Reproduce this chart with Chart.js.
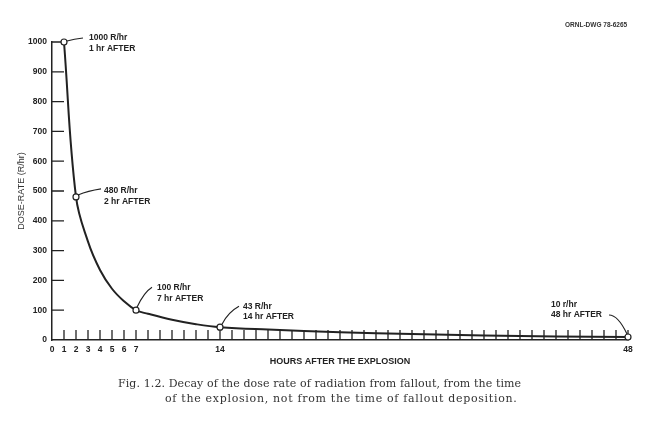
<!DOCTYPE html>
<html>
<head>
<meta charset="utf-8">
<title>Dose rate decay</title>
<script src="https://cdn.jsdelivr.net/npm/chart.js@4.4.0/dist/chart.umd.min.js"></script>
<style>
  body { margin: 0; background: #fff; }
  #wrap { position: relative; width: 664px; height: 427px; }
  #dwg { position: absolute; left: 565px; top: 21px; font: bold 6.5px "Liberation Sans", Arial, sans-serif; color: #333; }
  #caption { position: absolute; left: 118px; top: 376px; font: 11px "DejaVu Serif", serif; color: #333; line-height: 15px; white-space: nowrap; }
  #caption .l1 { letter-spacing: 0.1px; }
  #caption .l2 { margin-left: 47px; letter-spacing: 0.7px; }
</style>
</head>
<body>
<div id="wrap">
  <canvas id="myChart" width="664" height="427"></canvas>
  <div id="dwg">ORNL-DWG 78-6265</div>
  <div id="caption">
    <div class="l1">Fig. 1.2. Decay of the dose rate of radiation from fallout, from the time</div>
    <div class="l2">of the explosion, not from the time of fallout deposition.</div>
  </div>
</div>
<script>
// values
const hours    = [1, 2, 3, 4, 5, 6, 7, 8, 10, 12, 14, 18, 24, 30, 36, 42, 48];
const doseRate = [1000, 480, 330, 235, 172, 130, 100, 88, 68, 53, 43, 35, 26, 20, 15, 12, 10];

const markHours = [1, 2, 7, 14, 48];
const markRates = [1000, 480, 100, 43, 10];
const markText  = [
  ['1000 R/hr', '1 hr AFTER'],
  ['480 R/hr', '2 hr AFTER'],
  ['100 R/hr', '7 hr AFTER'],
  ['43 R/hr', '14 hr AFTER'],
  ['10 r/hr', '48 hr AFTER']
];

const xLabelHours = [0, 1, 2, 3, 4, 5, 6, 7, 14, 48];

const ink = '#222';
const lblFont = 'bold 8.5px "Liberation Sans", Arial, sans-serif';

// leader lines + text offsets, relative to each marked point
const leaders = [
  { path: [[3, -1], [10, -3], [19, -4]], dx: 25, dy: [-4, 7] },
  { path: [[2, -2], [12, -6], [25, -8]], dx: 28, dy: [-6, 5] },
  { path: [[1, -3], [8, -18], [16, -23]], dx: 21, dy: [-23, -12] },
  { path: [[2, -3], [8, -15], [19, -21]], dx: 23, dy: [-21, -11] },
  { path: [[-1, -3], [-10, -22], [-19, -22]], dx: -77, dy: [-32, -22] }
];

const innerTicks = {
  id: 'innerTicks',
  beforeDatasetsDraw(chart) {
    const { ctx, chartArea, scales } = chart;
    ctx.save();
    ctx.strokeStyle = ink;
    ctx.lineWidth = 1.3;
    ctx.beginPath();
    scales.x.ticks.forEach(t => {
      if (t.value <= 0) return;
      const px = scales.x.getPixelForValue(t.value);
      ctx.moveTo(px, chartArea.bottom);
      ctx.lineTo(px, chartArea.bottom - 10);
    });
    scales.y.ticks.forEach(t => {
      if (t.value <= 0) return;
      const py = scales.y.getPixelForValue(t.value);
      ctx.moveTo(chartArea.left, py);
      ctx.lineTo(chartArea.left + 12, py);
    });
    ctx.stroke();
    ctx.restore();
  },
  afterDraw(chart) {
    const { ctx, scales } = chart;
    ctx.save();
    ctx.strokeStyle = ink;
    ctx.fillStyle = ink;
    ctx.lineWidth = 1.2;
    ctx.font = lblFont;
    ctx.textBaseline = 'middle';
    markHours.forEach((h, i) => {
      const px = scales.x.getPixelForValue(h);
      const py = scales.y.getPixelForValue(markRates[i]);
      const L = leaders[i];
      ctx.beginPath();
      ctx.moveTo(px + L.path[0][0], py + L.path[0][1]);
      ctx.quadraticCurveTo(px + L.path[1][0], py + L.path[1][1], px + L.path[2][0], py + L.path[2][1]);
      ctx.stroke();
      ctx.fillText(markText[i][0], px + L.dx, py + L.dy[0]);
      ctx.fillText(markText[i][1], px + L.dx, py + L.dy[1]);
    });
    ctx.restore();
  }
};

const ctx = document.getElementById('myChart');

new Chart(ctx, {
  type: 'line',
  data: {
    datasets: [{
      label: 'marked',
      data: markHours.map((h, i) => ({ x: h, y: markRates[i] })),
      showLine: false,
      clip: false,
      pointRadius: 3,
      pointBackgroundColor: '#fff',
      pointBorderColor: ink,
      pointBorderWidth: 1.2
    }, {
      label: 'Dose rate',
      data: hours.map((h, i) => ({ x: h, y: doseRate[i] })),
      clip: false,
      borderColor: ink,
      borderWidth: 2,
      pointRadius: 0,
      tension: 0.4
    }]
  },
  options: {
    responsive: false,
    animation: false,
    layout: { padding: { top: 42, right: 36, bottom: 0, left: 0 } },
    plugins: { legend: { display: false }, tooltip: { enabled: false } },
    scales: {
      x: {
        type: 'linear',
        min: 0,
        max: 48,
        afterFit: s => { s.height = 87; },
        grid: { drawOnChartArea: false, drawTicks: false },
        border: { color: ink, width: 1.5 },
        ticks: {
          stepSize: 1,
          autoSkip: false,
          maxRotation: 0,
          padding: 5,
          color: ink,
          font: { family: '"Liberation Sans", Arial, sans-serif', size: 8.5, weight: 'bold' },
          callback: v => xLabelHours.includes(v) ? String(v) : ''
        },
        title: {
          display: true,
          text: 'HOURS AFTER THE EXPLOSION',
          color: ink,
          font: { family: '"Liberation Sans", Arial, sans-serif', size: 9, weight: 'bold' },
          padding: { top: 0, bottom: 60 }
        }
      },
      y: {
        min: 0,
        max: 1000,
        afterFit: s => { s.width = 52; },
        grid: { drawOnChartArea: false, drawTicks: false },
        border: { color: ink, width: 1.5 },
        ticks: {
          stepSize: 100,
          padding: 5,
          color: ink,
          font: { family: '"Liberation Sans", Arial, sans-serif', size: 8.5, weight: 'bold' },
          callback: v => String(v)
        },
        title: {
          display: true,
          text: 'DOSE-RATE (R/hr)',
          color: '#333',
          font: { family: '"Liberation Sans", Arial, sans-serif', size: 9 },
          padding: { top: 16, bottom: 0 }
        }
      }
    }
  },
  plugins: [innerTicks]
});
</script>
</body>
</html>
